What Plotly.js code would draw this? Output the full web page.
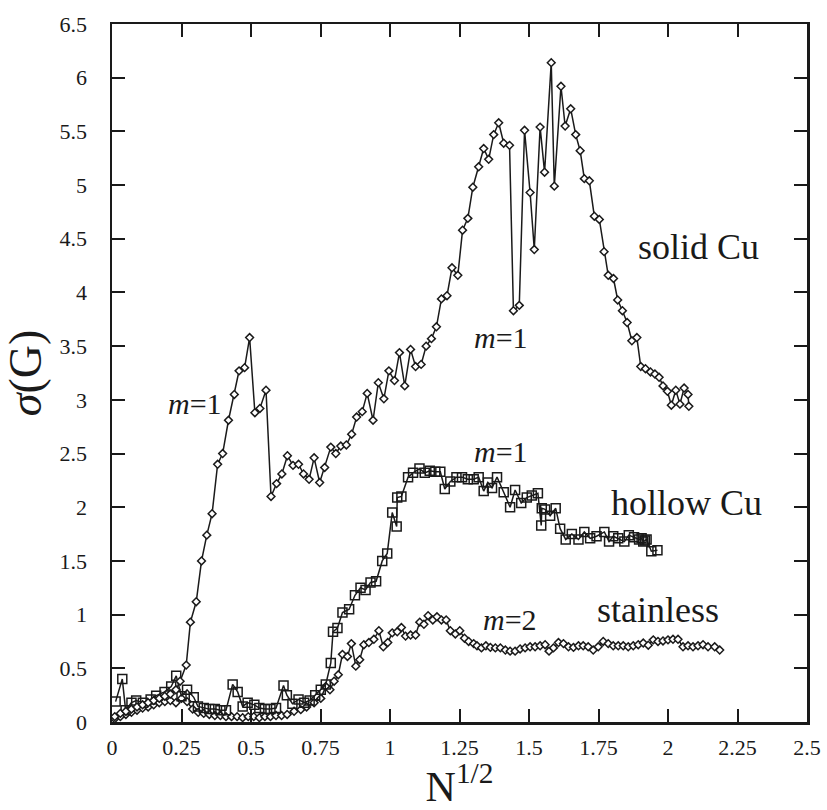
<!DOCTYPE html>
<html>
<head>
<meta charset="utf-8">
<script src="https://cdn.plot.ly/plotly-3.0.1.min.js"></script>
<style>html,body{margin:0;padding:0;background:#fff;}</style>
</head>
<body>
<div id="chart" style="width:827px;height:810px;"></div>
<script>
// ---- data ----
const solidX = [0.01,0.03,0.05,0.07,0.09,0.11,0.13,0.15,0.17,0.19,
  0.21,0.23,0.245,0.267,0.282,0.303,0.322,0.341,0.36,0.38,
  0.398,0.419,0.44,0.457,0.477,0.495,0.514,0.532,0.554,0.572,
  0.592,0.611,0.631,0.651,0.671,0.689,0.709,0.727,0.747,0.765,
  0.787,0.805,0.823,0.843,0.862,0.88,0.90,0.918,0.939,0.958,
  0.978,0.996,1.016,1.034,1.053,1.074,1.092,1.112,1.13,1.149,
  1.167,1.185,1.205,1.223,1.244,1.261,1.28,1.298,1.319,1.337,
  1.355,1.373,1.391,1.409,1.43,1.444,1.465,1.484,1.504,1.519,
  1.54,1.556,1.58,1.591,1.615,1.63,1.65,1.668,1.684,1.699,
  1.717,1.735,1.753,1.77,1.785,1.804,1.819,1.836,1.853,1.87,
  1.888,1.902,1.919,1.937,1.953,1.968,1.982,1.998,2.012,2.028,
  2.043,2.058,2.072,2.075];
const solidY = [0.05,0.08,0.10,0.12,0.14,0.16,0.18,0.20,0.22,0.24,
  0.26,0.30,0.38,0.53,0.93,1.12,1.50,1.74,1.94,2.40,
  2.50,2.81,3.05,3.27,3.30,3.58,2.88,2.92,3.09,2.10,
  2.22,2.31,2.48,2.39,2.40,2.31,2.26,2.46,2.23,2.37,
  2.56,2.50,2.57,2.58,2.68,2.84,2.89,3.06,2.81,3.16,
  3.01,3.27,3.18,3.44,3.13,3.47,3.31,3.33,3.50,3.57,
  3.68,3.94,3.97,4.23,4.16,4.58,4.69,4.98,5.17,5.34,
  5.24,5.47,5.58,5.39,5.37,3.83,3.88,5.51,4.93,4.40,
  5.54,5.12,6.14,4.99,5.92,5.55,5.71,5.47,5.32,5.06,
  5.04,4.71,4.68,4.38,4.16,4.13,3.93,3.83,3.72,3.55,
  3.58,3.31,3.29,3.26,3.24,3.21,3.13,3.08,2.95,3.09,
  2.96,3.11,3.05,2.94];

const hollowX = [0.013,0.037,0.049,0.07,0.087,0.111,0.139,0.159,0.189,0.213,
  0.231,0.25,0.27,0.294,0.309,0.33,0.35,0.37,0.39,0.41,
  0.434,0.452,0.47,0.488,0.512,0.53,0.55,0.57,0.59,0.617,
  0.629,0.649,0.671,0.691,0.711,0.731,0.751,0.769,0.787,0.795,
  0.811,0.829,0.853,0.874,0.894,0.912,0.93,0.95,0.972,0.99,
  1.008,1.024,1.026,1.041,1.065,1.083,1.106,1.125,1.143,1.163,
  1.181,1.197,1.217,1.239,1.259,1.28,1.301,1.319,1.337,1.352,
  1.367,1.385,1.409,1.432,1.45,1.472,1.492,1.51,1.532,1.544,
  1.546,1.558,1.576,1.596,1.612,1.632,1.654,1.678,1.699,1.72,
  1.743,1.771,1.788,1.803,1.821,1.843,1.859,1.878,1.896,1.905,
  1.911,1.917,1.923,1.94,1.962];
const hollowY = [0.19,0.40,0.11,0.18,0.20,0.18,0.21,0.245,0.28,0.33,
  0.43,0.24,0.30,0.23,0.145,0.13,0.12,0.12,0.11,0.11,
  0.35,0.28,0.145,0.18,0.16,0.13,0.12,0.12,0.13,0.34,
  0.25,0.17,0.21,0.18,0.20,0.25,0.30,0.35,0.55,0.84,
  0.875,1.02,1.05,1.18,1.25,1.23,1.30,1.31,1.50,1.57,
  1.95,1.82,2.09,2.10,2.28,2.32,2.36,2.32,2.34,2.33,
  2.33,2.17,2.24,2.28,2.28,2.26,2.26,2.28,2.15,2.23,
  2.18,2.28,2.14,2.00,2.16,2.04,2.09,2.11,2.13,1.83,
  1.99,1.98,1.92,1.99,1.80,1.70,1.75,1.70,1.77,1.71,
  1.73,1.77,1.68,1.73,1.71,1.68,1.74,1.72,1.70,1.71,
  1.68,1.69,1.70,1.59,1.60];

const stainX = [0.01,0.03,0.05,0.07,0.09,0.11,0.13,0.15,0.17,0.19,
  0.21,0.23,0.25,0.27,0.29,0.31,0.33,0.35,0.37,0.39,
  0.41,0.43,0.45,0.47,0.49,0.51,0.53,0.55,0.57,0.59,
  0.61,0.63,0.655,0.679,0.70,0.727,0.751,0.769,0.784,0.799,
  0.814,0.829,0.847,0.861,0.877,0.891,0.906,0.924,0.942,0.96,
  0.976,0.992,1.008,1.026,1.041,1.056,1.074,1.092,1.107,1.122,
  1.137,1.154,1.169,1.185,1.202,1.217,1.235,1.251,1.268,1.283,
  1.301,1.313,1.329,1.345,1.361,1.379,1.397,1.415,1.432,1.45,
  1.468,1.486,1.504,1.522,1.54,1.558,1.572,1.588,1.606,1.624,
  1.642,1.66,1.678,1.695,1.713,1.731,1.749,1.767,1.785,1.803,
  1.821,1.839,1.857,1.875,1.893,1.911,1.929,1.947,1.964,1.982,
  2.0,2.018,2.036,2.054,2.072,2.09,2.108,2.126,2.144,2.168,
  2.186];
const stainY = [0.03,0.05,0.07,0.09,0.11,0.13,0.14,0.16,0.18,0.19,
  0.20,0.18,0.22,0.19,0.12,0.09,0.08,0.07,0.06,0.06,
  0.05,0.05,0.05,0.04,0.05,0.05,0.04,0.05,0.05,0.06,
  0.06,0.07,0.10,0.115,0.14,0.18,0.22,0.33,0.30,0.38,
  0.44,0.63,0.61,0.73,0.52,0.58,0.72,0.74,0.77,0.85,
  0.70,0.74,0.83,0.84,0.88,0.80,0.81,0.81,0.93,0.91,
  0.99,0.95,0.98,0.95,0.95,0.85,0.82,0.85,0.78,0.75,
  0.73,0.71,0.69,0.71,0.695,0.69,0.69,0.67,0.66,0.66,
  0.68,0.69,0.70,0.70,0.71,0.72,0.66,0.69,0.74,0.73,
  0.70,0.695,0.71,0.71,0.70,0.67,0.70,0.75,0.73,0.71,
  0.71,0.71,0.70,0.71,0.72,0.735,0.715,0.765,0.75,0.755,
  0.765,0.77,0.77,0.70,0.71,0.70,0.71,0.72,0.70,0.70,
  0.67];

const xTicks = [0,0.25,0.5,0.75,1,1.25,1.5,1.75,2,2.25,2.5];
const xTickText = ["0","0.25","0.5","0.75","1","1.25","1.5","1.75","2","2.25","2.5"];
const yTicks = [0,0.5,1,1.5,2,2.5,3,3.5,4,4.5,5,5.5,6,6.5];
const yTickText = ["0","0.5","1","1.5","2","2.5","3","3.5","4","4.5","5","5.5","6","6.5"];

const labels = [
  {text:"solid Cu", x:2.108, y:4.425, size:36},
  {text:"hollow Cu", x:2.065, y:2.04, size:36},
  {text:"stainless", x:1.964, y:1.046, size:36},
  {text:"<i>m</i>=1", x:0.297, y:2.97, size:30},
  {text:"<i>m</i>=1", x:1.398, y:3.58, size:30},
  {text:"<i>m</i>=1", x:1.398, y:2.52, size:30},
  {text:"<i>m</i>=2", x:1.43, y:0.95, size:30}
];

const FONT = "Liberation Serif, Times New Roman, serif";
const lineStyle = {color:"#1a1a1a", width:1.5};

const traces = [
  {x:stainX, y:stainY, mode:"lines+markers", name:"stainless",
   line:lineStyle,
   marker:{symbol:"diamond", size:6, color:"#ffffff", line:{color:"#1a1a1a", width:1.5}}},
  {x:hollowX, y:hollowY, mode:"lines+markers", name:"hollow Cu",
   line:lineStyle,
   marker:{symbol:"square-open", size:9, color:"#1a1a1a", line:{color:"#1a1a1a", width:1.5}}},
  {x:solidX, y:solidY, mode:"lines+markers", name:"solid Cu",
   line:lineStyle,
   marker:{symbol:"diamond", size:6, color:"#ffffff", line:{color:"#1a1a1a", width:1.5}}}
];

const axisCommon = {
  showgrid:false, zeroline:false, showline:true, linecolor:"#1a1a1a", linewidth:2.5,
  mirror:"ticks", ticks:"inside", ticklen:13, tickwidth:2, tickcolor:"#1a1a1a",
  tickfont:{family:FONT, size:22, color:"#1a1a1a"}, tickmode:"array", fixedrange:true
};

const layout = {
  width:827, height:810,
  margin:{l:112, r:20, t:24, b:88},
  paper_bgcolor:"#ffffff", plot_bgcolor:"#ffffff",
  showlegend:false,
  font:{family:FONT, color:"#1a1a1a"},
  xaxis:Object.assign({}, axisCommon, {
    range:[0,2.5], tickvals:xTicks, ticktext:xTickText, ticklabelstandoff:4,
    title:{text:'N<sup>1/2</sup>', font:{family:FONT, size:42, color:"#1a1a1a"}, standoff:8}
  }),
  yaxis:Object.assign({}, axisCommon, {
    range:[0,6.5], tickvals:yTicks, ticktext:yTickText, ticklabelstandoff:18,
    title:{text:"<i>σ</i>(G)", font:{family:FONT, size:46, color:"#1a1a1a"}, standoff:10}
  }),
  annotations: labels.map(l => ({
    text:l.text, x:l.x, y:l.y, xref:"x", yref:"y", showarrow:false,
    font:{family:FONT, size:l.size, color:"#1a1a1a"}
  }))
};

Plotly.newPlot("chart", traces, layout, {displayModeBar:false, staticPlot:true});
</script>
</body>
</html>
